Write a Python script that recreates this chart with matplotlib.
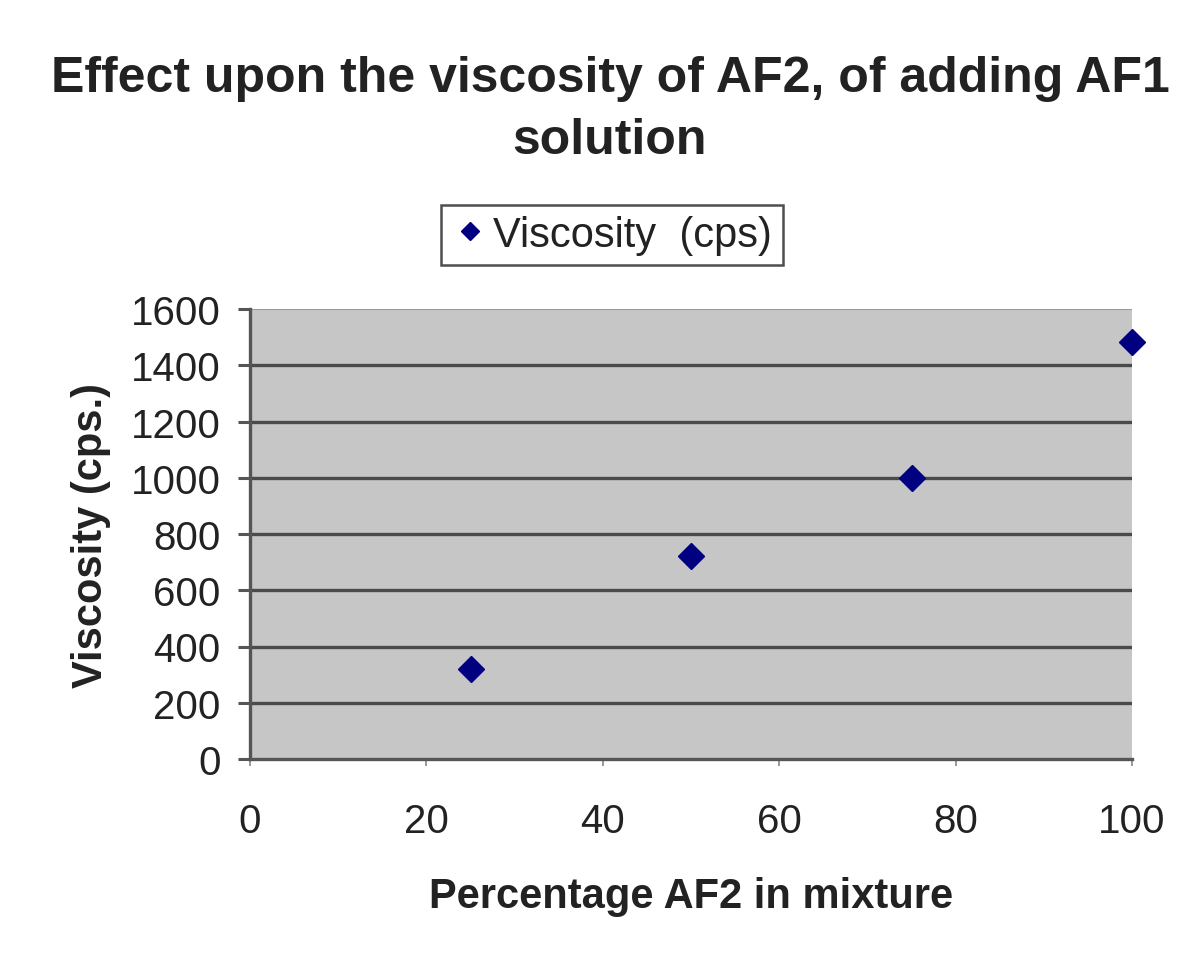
import matplotlib.pyplot as plt

# data
percent_af2 = [25, 50, 75, 100]
viscosity = [320, 722, 1000, 1482]

x_ticks = [0, 20, 40, 60, 80, 100]
y_ticks = [0, 200, 400, 600, 800, 1000, 1200, 1400, 1600]

plt.rcParams['font.family'] = ['Liberation Sans', 'DejaVu Sans']

fig = plt.figure(figsize=(11.96, 9.62), dpi=100)
ax = fig.add_axes([250 / 1196, 1 - 760 / 962, 882 / 1196, 450 / 962])
ax.set_facecolor('#c6c6c6')

for y in y_ticks[1:-1]:
    ax.axhline(y, color='#4a4a4a', lw=2.4, zorder=1)
ax.axhline(y_ticks[-1], color='#9a9a9a', lw=1.5, zorder=1)

ax.plot(percent_af2, viscosity, linestyle='none', marker='D', ms=13,
        color='#000080', label='Viscosity  (cps)', zorder=3, clip_on=False)

ax.set_xlim(0, 100)
ax.set_ylim(0, 1600)
ax.set_xticks(x_ticks)
ax.set_yticks(y_ticks)

for side in ['top', 'right']:
    ax.spines[side].set_visible(False)
ax.spines['left'].set_color('#555555')
ax.spines['left'].set_linewidth(2.4)
ax.spines['bottom'].set_color('#555555')
ax.spines['bottom'].set_linewidth(2.4)

ax.tick_params(axis='y', labelsize=29, length=9, width=2.2, color='#555555',
               pad=12, labelcolor='#222222')
ax.tick_params(axis='x', labelsize=29, length=5, width=1.2, color='#888888',
               pad=26, labelcolor='#222222')

ax.set_xlabel('Percentage AF2 in mixture', fontsize=30, fontweight='bold',
              color='#222222', labelpad=26)
ax.set_ylabel('Viscosity (cps.)', fontsize=30, fontweight='bold',
              color='#222222', labelpad=14)

fig.text(610 / 1196, 1 - 110 / 962,
         'Effect upon the viscosity of AF2, of adding AF1\nsolution',
         ha='center', va='center', fontsize=36, fontweight='bold',
         color='#222222', linespacing=1.45)

leg = fig.legend(loc='center', bbox_to_anchor=(612 / 1196, 1 - 236 / 962),
                 fontsize=30, frameon=True, fancybox=False, handletextpad=0.1,
                 handlelength=0.9, borderpad=0.25, markerscale=0.7)
leg.get_frame().set_edgecolor('#222222')
leg.get_frame().set_linewidth(1.8)
for t in leg.get_texts():
    t.set_color('#222222')

fig.savefig('out.png', dpi=100, facecolor='white')
